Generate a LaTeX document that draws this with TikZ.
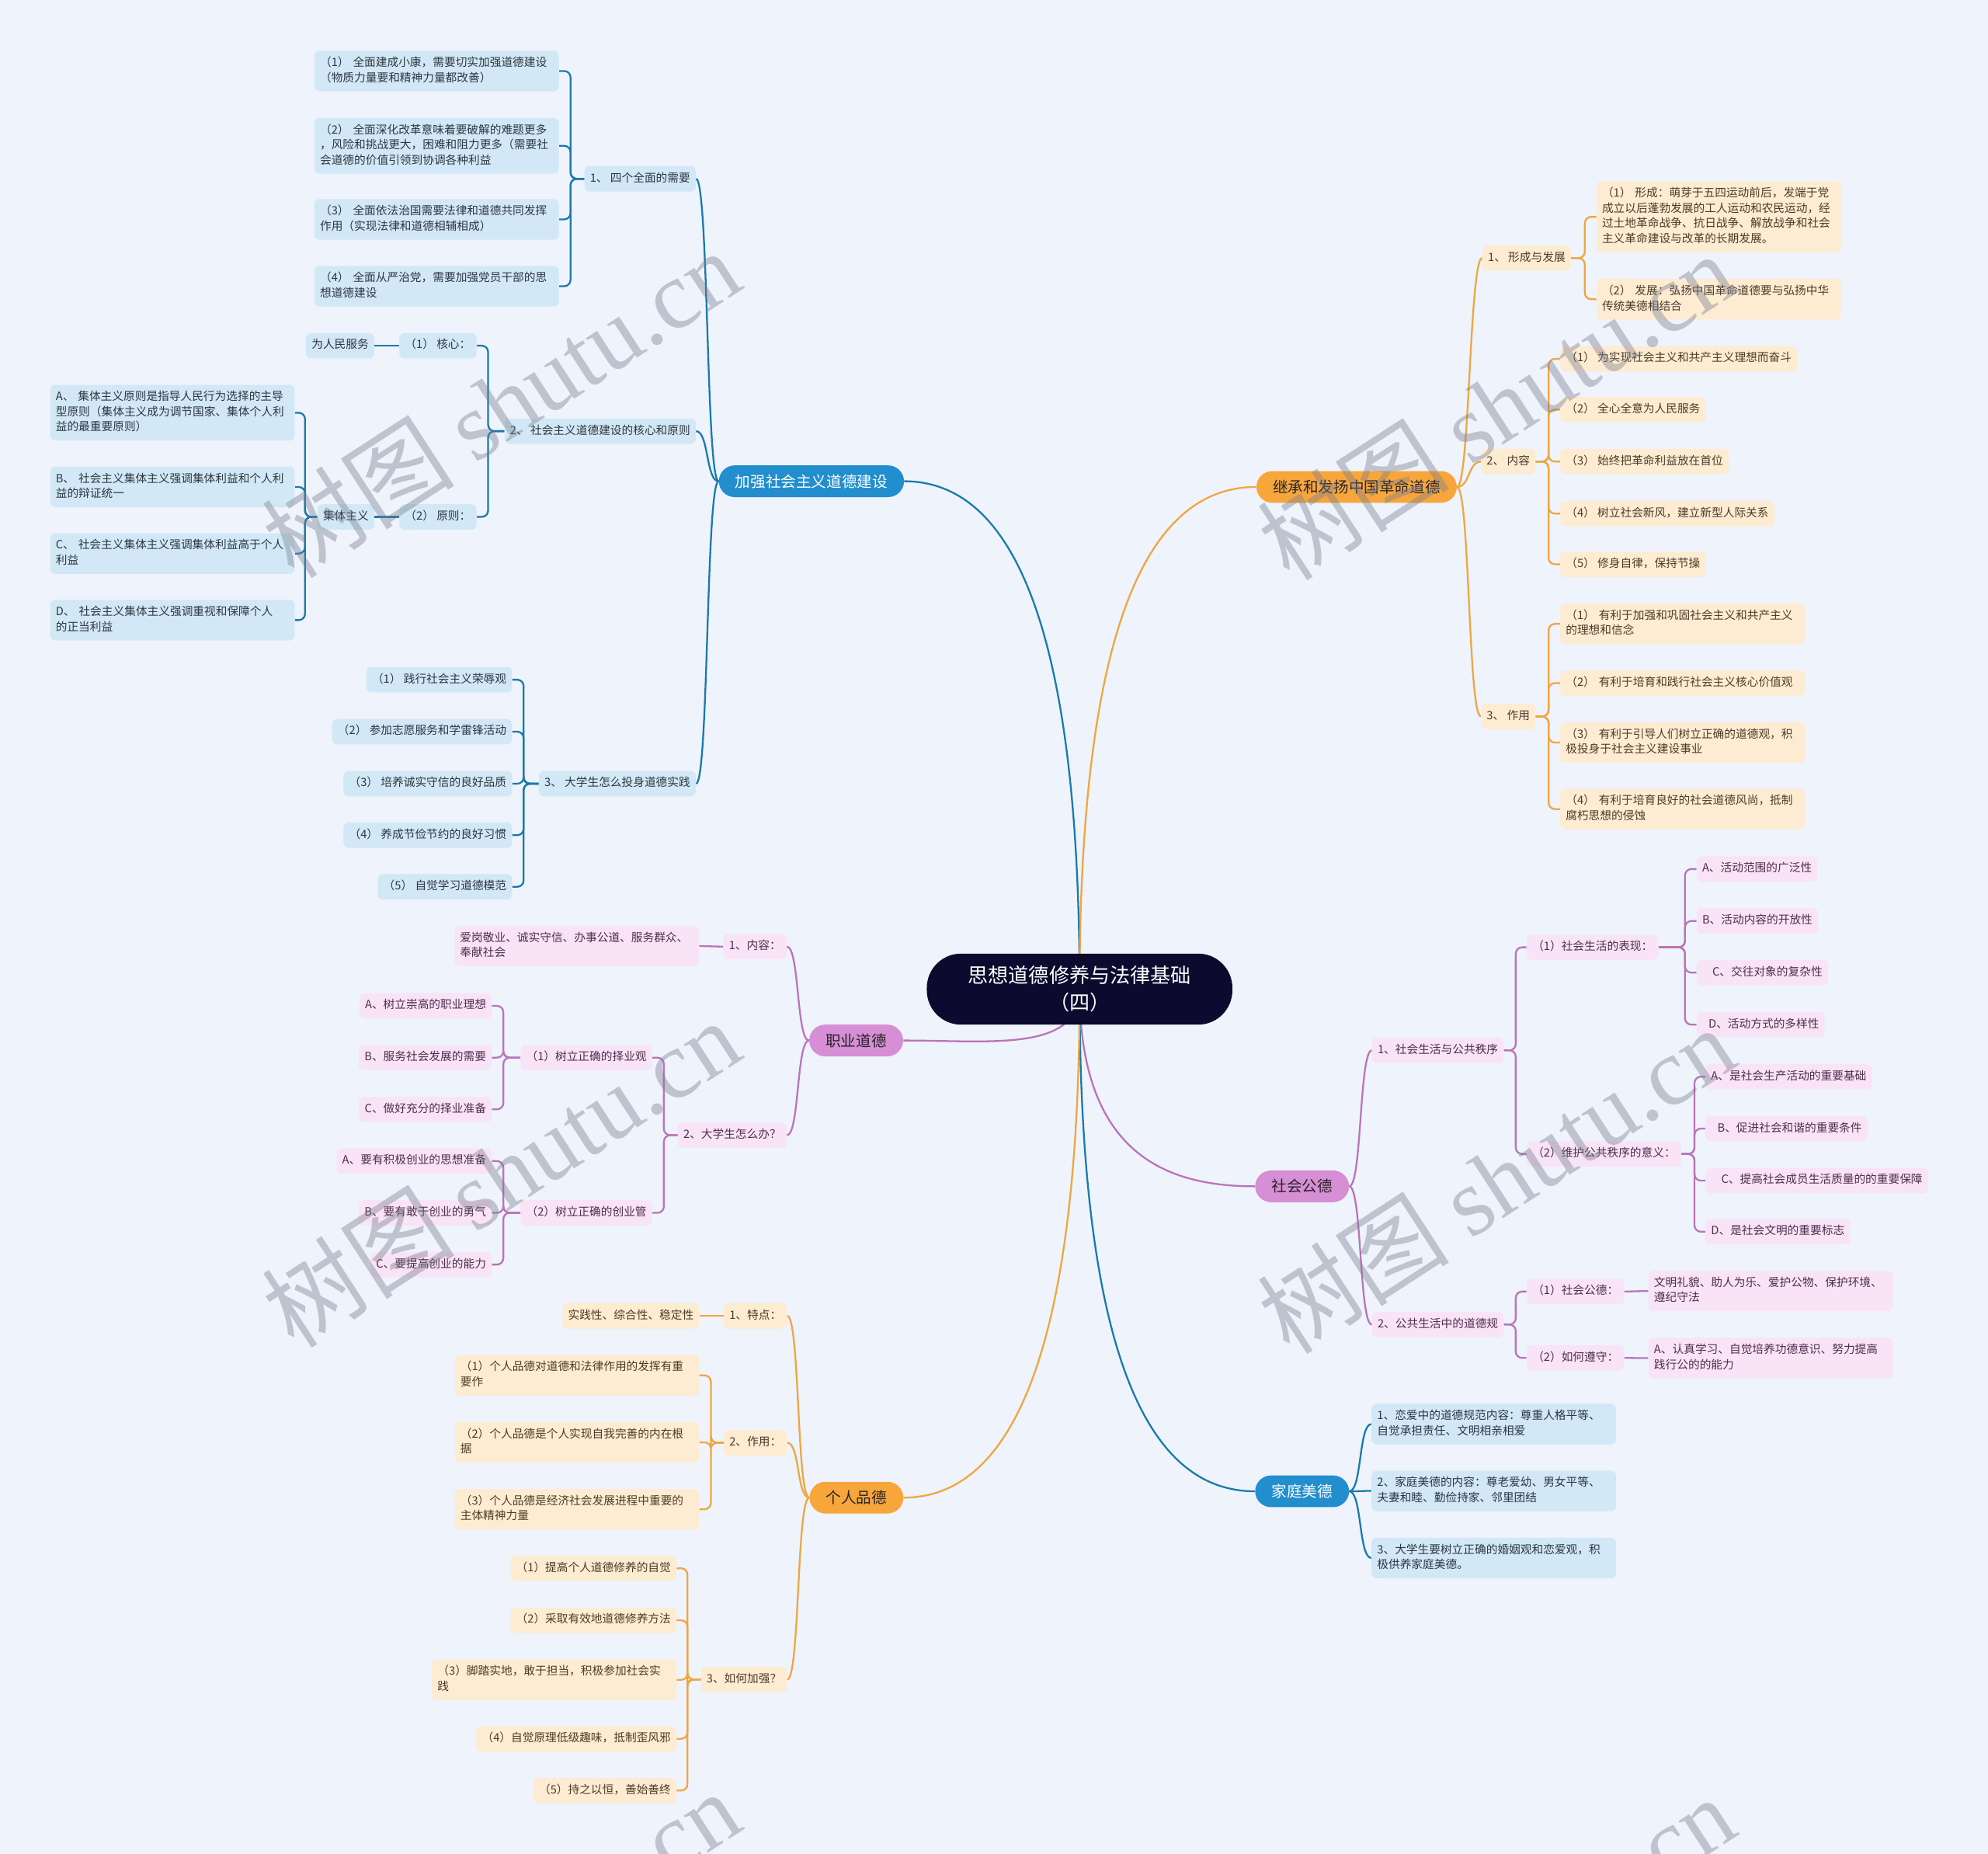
\documentclass[tikz,border=0pt]{standalone}
\usepackage{fontspec}
\setmainfont{Noto Sans CJK SC}
\newfontfamily\wmlatin{Liberation Serif}
\usetikzlibrary{calc}
\definecolor{bgc}{RGB}{238,243,252}
\definecolor{cnavy}{RGB}{12,10,46}
\definecolor{bmain}{RGB}{34,142,206}
\definecolor{bline}{RGB}{27,122,170}
\definecolor{bfill}{RGB}{210,232,246}
\definecolor{btext}{RGB}{45,55,65}
\definecolor{omain}{RGB}{247,166,60}
\definecolor{oline}{RGB}{240,166,64}
\definecolor{ofill}{RGB}{253,236,210}
\definecolor{otext}{RGB}{75,60,40}
\definecolor{pmain}{RGB}{214,142,212}
\definecolor{pline}{RGB}{186,116,184}
\definecolor{pfill}{RGB}{248,228,246}
\definecolor{ptext}{RGB}{80,45,78}
\definecolor{dtext}{RGB}{40,35,40}
\definecolor{wmc}{RGB}{120,125,140}
\pgfdeclarelayer{back}
\pgfdeclarelayer{bg}
\pgfsetlayers{back,bg,main}
\tikzset{
  leaf/.style={rounded corners=4pt, inner xsep=4.4pt, inner ysep=4pt, align=left,
    font=\fontsize{9}{12}\selectfont,
    execute at begin node=\strut, execute at end node=\strut},
  wide/.style={text width=184pt},
  bleaf/.style={leaf, fill=bfill, text=btext},
  oleaf/.style={leaf, fill=ofill, text=otext},
  pleaf/.style={leaf, fill=pfill, text=ptext},
  mainnode/.style={rounded corners=12.5pt, minimum height=25pt, inner xsep=13pt,
    inner ysep=0pt, font=\fontsize{12}{14}\selectfont},
  mainb/.style={mainnode, fill=bmain, text=white},
  maino/.style={mainnode, fill=omain, text=dtext},
  mainp/.style={mainnode, fill=pmain, text=dtext},
  central/.style={rounded corners=27pt, fill=cnavy, text=white, align=center,
    font=\fontsize{16}{21.5}\selectfont, minimum width=241pt, minimum height=56pt,
    inner ysep=8pt},
  cb/.style={draw=bline, line width=1.4pt},
  co/.style={draw=oline, line width=1.4pt},
  cp/.style={draw=pline, line width=1.4pt},
  rc/.style={rounded corners=5pt},
  wm/.style={rotate=33, text=wmc, opacity=0.4, font=\fontsize{76}{80}\selectfont}
}
\begin{document}
\begin{tikzpicture}[x=1pt,y=-1pt]
\useasboundingbox (0,0) rectangle (1568,1462);
\begin{pgfonlayer}{back}
\fill[bgc] (0,0) rectangle (1568,1462);
\end{pgfonlayer}
\clip (0,0) rectangle (1568,1462);

% ---------- central and main branches
\node[central] (c) at (851.5,780) {思想道德修养与法律基础\\（四）};
\node[mainb] (b1) at (640,379.5) {加强社会主义道德建设};
\node[maino] (b2) at (1070,384) {继承和发扬中国革命道德};
\node[mainp] (b3) at (675.3,820.5) {职业道德};
\node[mainp] (b4) at (1027,935.5) {社会公德};
\node[mainb] (b5) at (1027,1176) {家庭美德};
\node[maino] (b6) at (675.5,1181) {个人品德};

% ---------- 加强社会主义道德建设
\node[bleaf, anchor=east] (l1a) at (549,141) {1、 四个全面的需要};
\node[bleaf, wide, anchor=east] (a1) at (441,56) {（1） 全面建成小康，需要切实加强道德建设\\（物质力量要和精神力量都改善）};
\node[bleaf, wide, anchor=east] (a2) at (441,115) {（2） 全面深化改革意味着要破解的难题更多\\，风险和挑战更大，困难和阻力更多（需要社\\会道德的价值引领到协调各种利益};
\node[bleaf, wide, anchor=east] (a3) at (441,173) {（3） 全面依法治国需要法律和道德共同发挥\\作用（实现法律和道德相辅相成）};
\node[bleaf, wide, anchor=east] (a4) at (441,225.7) {（4） 全面从严治党，需要加强党员干部的思\\想道德建设};
\node[bleaf, anchor=east] (l1b) at (549,340) {2、 社会主义道德建设的核心和原则};
\node[bleaf, anchor=east] (k1) at (376,272.6) {（1） 核心：};
\node[bleaf, anchor=east] (rm) at (295.4,272.6) {为人民服务};
\node[bleaf, anchor=east] (k2) at (376,407.6) {（2） 原则：};
\node[bleaf, anchor=east] (jt) at (295.4,407.6) {集体主义};
\node[bleaf, wide, anchor=east] (ja) at (232.6,325.5) {A、 集体主义原则是指导人民行为选择的主导\\型原则（集体主义成为调节国家、集体个人利\\益的最重要原则）};
\node[bleaf, wide, anchor=east] (jb) at (232.6,384) {B、 社会主义集体主义强调集体利益和个人利\\益的辩证统一};
\node[bleaf, wide, anchor=east] (jc) at (232.6,436.5) {C、 社会主义集体主义强调集体利益高于个人\\利益};
\node[bleaf, wide, anchor=east] (jd) at (232.6,489) {D、 社会主义集体主义强调重视和保障个人\\的正当利益};
\node[bleaf, anchor=east] (l1c) at (549,618) {3、 大学生怎么投身道德实践};
\node[bleaf, anchor=east] (s1) at (404,536) {（1） 践行社会主义荣辱观};
\node[bleaf, anchor=east] (s2) at (404,577) {（2） 参加志愿服务和学雷锋活动};
\node[bleaf, anchor=east] (s3) at (404,618) {（3） 培养诚实守信的良好品质};
\node[bleaf, anchor=east] (s4) at (404,658.6) {（4） 养成节俭节约的良好习惯};
\node[bleaf, anchor=east] (s5) at (404,699.3) {（5） 自觉学习道德模范};

% ---------- 继承和发扬中国革命道德
\node[oleaf, anchor=west] (r1) at (1169,203.5) {1、 形成与发展};
\node[oleaf, wide, anchor=west] (r1a) at (1259,171) {（1） 形成：萌芽于五四运动前后，发端于党\\成立以后蓬勃发展的工人运动和农民运动，经\\过土地革命战争、抗日战争、解放战争和社会\\主义革命建设与改革的长期发展。};
\node[oleaf, wide, anchor=west] (r1b) at (1259,236) {（2） 发展：弘扬中国革命道德要与弘扬中华\\传统美德相结合};
\node[oleaf, anchor=west] (r2) at (1168,364) {2、 内容};
\node[oleaf, anchor=west] (r2a) at (1230.4,283) {（1） 为实现社会主义和共产主义理想而奋斗};
\node[oleaf, anchor=west] (r2b) at (1230.4,323) {（2） 全心全意为人民服务};
\node[oleaf, anchor=west] (r2c) at (1230.4,364) {（3） 始终把革命利益放在首位};
\node[oleaf, anchor=west] (r2d) at (1230.4,405) {（4） 树立社会新风，建立新型人际关系};
\node[oleaf, anchor=west] (r2e) at (1230.4,445) {（5） 修身自律，保持节操};
\node[oleaf, anchor=west] (r3) at (1168,565) {3、 作用};
\node[oleaf, wide, anchor=west] (r3a) at (1230.4,492) {（1） 有利于加强和巩固社会主义和共产主义\\的理想和信念};
\node[oleaf, wide, anchor=west] (r3b) at (1230.4,538.7) {（2） 有利于培育和践行社会主义核心价值观};
\node[oleaf, wide, anchor=west] (r3c) at (1230.4,585.6) {（3） 有利于引导人们树立正确的道德观，积\\极投身于社会主义建设事业};
\node[oleaf, wide, anchor=west] (r3d) at (1230.4,638) {（4） 有利于培育良好的社会道德风尚，抵制\\腐朽思想的侵蚀};

% ---------- 职业道德
\node[pleaf, anchor=east] (z1) at (620.6,746.5) {1、内容：};
\node[pleaf, wide, anchor=east] (z1a) at (551.5,746) {爱岗敬业、诚实守信、办事公道、服务群众、\\奉献社会};
\node[pleaf, anchor=east] (z2) at (620.6,895.2) {2、大学生怎么办？};
\node[pleaf, anchor=east] (z21) at (514.6,834) {（1）树立正确的择业观};
\node[pleaf, anchor=east] (z22) at (514.6,956.4) {（2）树立正确的创业管};
\node[pleaf, anchor=east] (z21a) at (388,793.2) {A、树立崇高的职业理想};
\node[pleaf, anchor=east] (z21b) at (388,834) {B、服务社会发展的需要};
\node[pleaf, anchor=east] (z21c) at (388,874.8) {C、做好充分的择业准备};
\node[pleaf, anchor=east] (z22a) at (388,915.6) {A、要有积极创业的思想准备};
\node[pleaf, anchor=east] (z22b) at (388,956.4) {B、要有敢于创业的勇气};
\node[pleaf, anchor=east] (z22c) at (388,997.2) {C、要提高创业的能力};

% ---------- 个人品德
\node[oleaf, anchor=east] (g1) at (620.9,1037.7) {1、特点：};
\node[oleaf, anchor=east] (g1a) at (551.7,1037.7) {实践性、综合性、稳定性};
\node[oleaf, anchor=east] (g2) at (620.9,1137.7) {2、作用：};
\node[oleaf, wide, anchor=east] (g2a) at (551.7,1084.6) {（1）个人品德对道德和法律作用的发挥有重\\要作};
\node[oleaf, wide, anchor=east] (g2b) at (551.7,1137.4) {（2）个人品德是个人实现自我完善的内在根\\据};
\node[oleaf, wide, anchor=east] (g2c) at (551.7,1190.2) {（3）个人品德是经济社会发展进程中重要的\\主体精神力量};
\node[oleaf, anchor=east] (g3) at (620.9,1324.4) {3、如何加强？};
\node[oleaf, anchor=east] (g3a) at (533.7,1236.7) {（1）提高个人道德修养的自觉};
\node[oleaf, anchor=east] (g3b) at (533.7,1277.7) {（2）采取有效地道德修养方法};
\node[oleaf, wide, anchor=east] (g3c) at (533.7,1324.7) {（3）脚踏实地，敢于担当，积极参加社会实\\践};
\node[oleaf, anchor=east] (g3d) at (533.7,1371.2) {（4）自觉原理低级趣味，抵制歪风邪};
\node[oleaf, anchor=east] (g3e) at (533.7,1412) {（5）持之以恒，善始善终};

% ---------- 社会公德
\node[pleaf, anchor=west] (h1) at (1082,828.3) {1、社会生活与公共秩序};
\node[pleaf, anchor=west] (h11) at (1204,747) {（1）社会生活的表现：};
\node[pleaf, anchor=west] (h11a) at (1338,685.3) {A、活动范围的广泛性};
\node[pleaf, anchor=west] (h11b) at (1338,726.3) {B、活动内容的开放性};
\node[pleaf, anchor=west] (h11c) at (1338,767) {\hspace{8pt}C、交往对象的复杂性};
\node[pleaf, anchor=west] (h11d) at (1338,808) {\hspace{5pt}D、活动方式的多样性};
\node[pleaf, anchor=west] (h12) at (1204,910) {（2）维护公共秩序的意义：};
\node[pleaf, anchor=west] (h12a) at (1345,849) {A、是社会生产活动的重要基础};
\node[pleaf, anchor=west] (h12b) at (1345,890) {\hspace{5pt}B、促进社会和谐的重要条件};
\node[pleaf, anchor=west] (h12c) at (1345,931) {\hspace{8pt}C、提高社会成员生活质量的的重要保障};
\node[pleaf, anchor=west] (h12d) at (1345,971.3) {D、是社会文明的重要标志};
\node[pleaf, anchor=west] (h2) at (1082,1044.5) {2、公共生活中的道德规};
\node[pleaf, anchor=west] (h21) at (1204,1018.5) {（1）社会公德：};
\node[pleaf, wide, anchor=west] (h21a) at (1300,1018) {文明礼貌、助人为乐、爱护公物、保护环境、\\遵纪守法};
\node[pleaf, anchor=west] (h22) at (1204,1070.8) {（2）如何遵守：};
\node[pleaf, wide, anchor=west] (h22a) at (1300,1071) {A、认真学习、自觉培养功德意识、努力提高\\践行公的的能力};

% ---------- 家庭美德
\node[bleaf, wide, anchor=west] (f1) at (1081.6,1123) {1、恋爱中的道德规范内容：尊重人格平等、\\自觉承担责任、文明相亲相爱};
\node[bleaf, wide, anchor=west] (f2) at (1081.6,1175.7) {2、家庭美德的内容：尊老爱幼、男女平等、\\夫妻和睦、勤俭持家、邻里团结};
\node[bleaf, wide, anchor=west] (f3) at (1081.6,1228.6) {3、大学生要树立正确的婚姻观和恋爱观，积\\极供养家庭美德。};

% ---------- connectors
\begin{pgfonlayer}{bg}
\draw[cb] (c.center) .. controls +(0,-300) and +(80,0) .. (b1.east);
\draw[co] (c.center) .. controls +(0,-300) and +(-80,0) .. (b2.west);
\draw[cp] (c.center) .. controls +(0,50) and +(70,0) .. (b3.east);
\draw[cp] (c.center) .. controls +(0,130) and +(-70,0) .. (b4.west);
\draw[cb] (c.center) .. controls +(0,300) and +(-80,0) .. (b5.west);
\draw[co] (c.center) .. controls +(0,300) and +(80,0) .. (b6.east);

\foreach \t in {l1a,l1b,l1c} \draw[cb] (b1.west) .. controls +(-10,0) and +(10,0) .. (\t.east);
\foreach \t in {r1,r2,r3} \draw[co] (b2.east) .. controls +(10,0) and +(-10,0) .. (\t.west);
\foreach \t in {z1,z2} \draw[cp] (b3.west) .. controls +(-10,0) and +(10,0) .. (\t.east);
\foreach \t in {h1,h2} \draw[cp] (b4.east) .. controls +(10,0) and +(-10,0) .. (\t.west);
\foreach \t in {f1,f2,f3} \draw[cb] (b5.east) .. controls +(10,0) and +(-10,0) .. (\t.west);
\foreach \t in {g1,g2,g3} \draw[co] (b6.west) .. controls +(-10,0) and +(10,0) .. (\t.east);

\foreach \t in {a1,a2,a3,a4} \draw[cb,rc] (\t.east) -- ++(9,0) |- (l1a.west);
\foreach \t in {k1,k2} \draw[cb,rc] (\t.east) -- ++(9,0) |- (l1b.west);
\draw[cb] (k1.west) -- (rm.east);
\draw[cb] (k2.west) -- (jt.east);
\foreach \t in {ja,jb,jc,jd} \draw[cb,rc] (\t.east) -- ++(8,0) |- (jt.west);
\foreach \t in {s1,s2,s3,s4,s5} \draw[cb,rc] (\t.east) -- ++(9,0) |- (l1c.west);

\foreach \t in {r1a,r1b} \draw[co,rc] (\t.west) -- ++(-9,0) |- (r1.east);
\foreach \t in {r2a,r2b,r2c,r2d,r2e} \draw[co,rc] (\t.west) -- ++(-9,0) |- (r2.east);
\foreach \t in {r3a,r3b,r3c,r3d} \draw[co,rc] (\t.west) -- ++(-9,0) |- (r3.east);

\draw[cp] (z1.west) -- (z1a.east);
\foreach \t in {z21,z22} \draw[cp,rc] (\t.east) -- ++(9,0) |- (z2.west);
\foreach \t in {z21a,z21b,z21c} \draw[cp,rc] (\t.east) -- ++(9,0) |- (z21.west);
\foreach \t in {z22a,z22b,z22c} \draw[cp,rc] (\t.east) -- ++(9,0) |- (z22.west);

\draw[co] (g1.west) -- (g1a.east);
\foreach \t in {g2a,g2b,g2c} \draw[co,rc] (\t.east) -- ++(9,0) |- (g2.west);
\foreach \t in {g3a,g3b,g3c,g3d,g3e} \draw[co,rc] (\t.east) -- ++(8.5,0) |- (g3.west);

\foreach \t in {h11,h12} \draw[cp,rc] (\t.west) -- ++(-8.5,0) |- (h1.east);
\foreach \t in {h11a,h11b,h11c,h11d} \draw[cp,rc] (\t.west) -- ++(-9,0) |- (h11.east);
\foreach \t in {h12a,h12b,h12c,h12d} \draw[cp,rc] (\t.west) -- ++(-8.5,0) |- (h12.east);
\foreach \t in {h21,h22} \draw[cp,rc] (\t.west) -- ++(-8.5,0) |- (h2.east);
\draw[cp] (h21.east) -- (h21a.west);
\draw[cp] (h22.east) -- (h22a.west);
\end{pgfonlayer}

% ---------- watermarks
\foreach \x/\y [count=\i] in {395/318, 1180/320, 395/925, 1180/930, 395/1533, 1180/1537}
  \node[wm] (wm\i) at (\x,\y) {树图 {\wmlatin shutu.cn}};
\end{tikzpicture}
\end{document}
